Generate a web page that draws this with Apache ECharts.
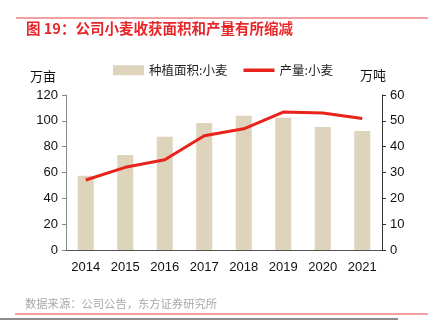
<!DOCTYPE html>
<html><head><meta charset="utf-8">
<script src="https://cdn.jsdelivr.net/npm/echarts@6/dist/echarts.min.js"></script>
<style>html,body{margin:0;padding:0;background:#fff;}#c{width:433px;height:322px;}</style>
</head><body><div id="c"></div>
<script>
const categories = ['2014','2015','2016','2017','2018','2019','2020','2021'];
const areaValues = [57.5, 73.6, 87.6, 98.4, 103.9, 102.3, 95.3, 92.2];
const outputValues = [27.1, 32.0, 34.9, 44.2, 46.9, 53.4, 53.0, 50.9];
const leftTicks = [0, 20, 40, 60, 80, 100, 120];
const rightTicks = [0, 10, 20, 30, 40, 50, 60];

const font = '"Liberation Sans", Arial, "Noto Sans CJK SC", sans-serif';
const cjk = '"Noto Sans CJK SC", sans-serif';
const chart = echarts.init(document.getElementById('c'));
chart.setOption({
  animation: false,
  textStyle: { fontFamily: font },
  graphic: [
    { type: 'line', shape: { x1: 16, y1: 18, x2: 428, y2: 18 }, style: { stroke: '#e84040', lineWidth: 1 } },
    { type: 'text', left: 26, top: 21, style: { text: '图 19：公司小麦收获面积和产量有所缩减', fill: '#e8262a', font: 'bold 14.5px ' + cjk } },
    { type: 'text', left: 25, top: 298, style: { text: '数据来源：公司公告，东方证券研究所', fill: '#a8a8a8', font: '11.3px ' + cjk } },
    { type: 'line', shape: { x1: 15, y1: 314, x2: 428, y2: 314 }, style: { stroke: '#e84040', lineWidth: 1 } },
    { type: 'line', shape: { x1: 0, y1: 319, x2: 398, y2: 319 }, style: { stroke: '#666', lineWidth: 1.5 } },
    { type: 'text', left: 360, top: 69, style: { text: '万吨', fill: '#111', font: '13px ' + cjk } }
  ],
  legend: {
    top: 59, left: 108, itemGap: 16, itemWidth: 31, itemHeight: 10,
    symbolKeepAspect: true,
    textStyle: { fontSize: 12.5, color: '#222', fontFamily: cjk },
    data: [
      { name: '种植面积:小麦', icon: 'rect' },
      { name: '产量:小麦', icon: 'path://M0,0 H31 V3.5 H0 Z' }
    ]
  },
  grid: { left: 66, right: 51, top: 95, bottom: 72 },
  xAxis: {
    type: 'category', data: categories,
    axisLine: { lineStyle: { color: '#555', width: 1 } },
    axisTick: { inside: true, length: 3, lineStyle: { color: '#555' } },
    axisLabel: { color: '#111', fontSize: 13, margin: 11, fontFamily: font }
  },
  yAxis: [
    {
      type: 'value', min: 0, max: 120, interval: 20, name: '万亩',
      nameLocation: 'end', nameGap: 12, nameTextStyle: { color: '#111', fontSize: 13, align: 'right', padding: [0, 10, 0, 0], fontFamily: cjk },
      axisLine: { show: true, lineStyle: { color: '#888' } },
      axisTick: { show: true, length: 4, lineStyle: { color: '#888' } },
      axisLabel: { color: '#111', fontSize: 13, margin: 8, formatter: v => leftTicks.includes(v) ? String(v) : '' },
      splitLine: { show: false }
    },
    {
      type: 'value', min: 0, max: 60, interval: 10,
      axisLine: { show: true, lineStyle: { color: '#333' } },
      axisTick: { show: true, length: 4, lineStyle: { color: '#333' } },
      axisLabel: { color: '#111', fontSize: 13, margin: 8, formatter: v => rightTicks.includes(v) ? String(v) : '' },
      splitLine: { show: false }
    }
  ],
  series: [
    {
      name: '种植面积:小麦', type: 'bar', data: areaValues, barWidth: 16,
      itemStyle: { color: '#ded3bb' }
    },
    {
      name: '产量:小麦', type: 'line', yAxisIndex: 1, data: outputValues,
      symbol: 'none', smooth: false,
      lineStyle: { color: '#e8231c', width: 3 }, itemStyle: { color: '#e8231c' }
    }
  ]
});
</script></body></html>
